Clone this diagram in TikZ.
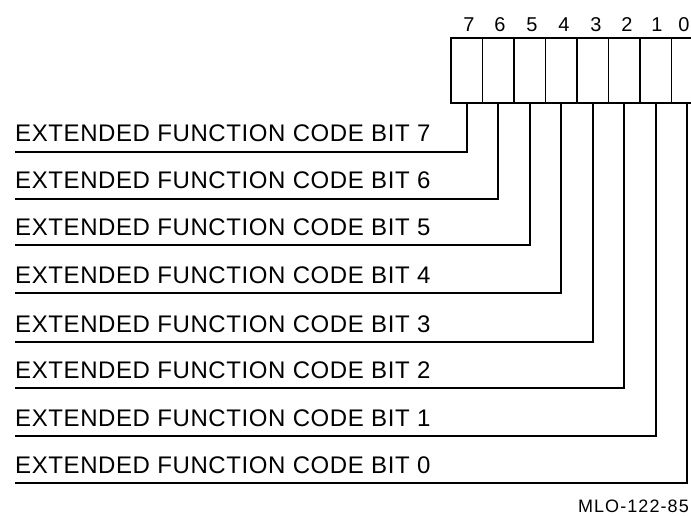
\documentclass[tikz,border=0pt]{standalone}
\usepackage{fontspec}
\setmainfont{Liberation Sans}
\begin{document}
\begin{tikzpicture}[x=1pt,y=-1pt,
  cell/.style={draw,line width=1.8pt,minimum width=31.5pt,minimum height=65pt,inner sep=0pt,outer sep=0pt},
  wire/.style={line width=1.8pt},
  lbl/.style={anchor=base west,inner sep=0pt,font=\fontsize{24}{28}\selectfont\addfontfeature{LetterSpace=2.5}},
  bitnum/.style={font=\fontsize{20}{24}\selectfont,inner sep=0pt},
  code/.style={font=\fontsize{18}{20}\selectfont\addfontfeature{LetterSpace=6},inner sep=0pt}
]
\useasboundingbox (0,0) rectangle (691,516);
\begin{scope}
\clip (0,0) rectangle (691,516);
\foreach \b [count=\i from 0] in {7,6,5,4,3,2,1,0} {
  \node[cell] (c\b) at ({451+15.75+31.5*\i},70.5) {};
}
\foreach \b/\x in {7/469,6/500,5/532,4/564,3/596,2/627,1/657,0/684} {
  \node[bitnum] (n\b) at (\x,25) {\b};
}
\foreach \b/\y in {7/152,6/199,5/245,4/293,3/342,2/388,1/436,0/483} {
  \coordinate (e\b) at (15,\y);
  \node[lbl] (t\b) at (15,\y-10) {EXTENDED FUNCTION CODE BIT \b};
  \draw[wire] (c\b.south) |- (e\b);
}
\end{scope}
\node[code,anchor=south east] (mlo) at (689,513) {MLO-122-85};
\end{tikzpicture}
\end{document}
